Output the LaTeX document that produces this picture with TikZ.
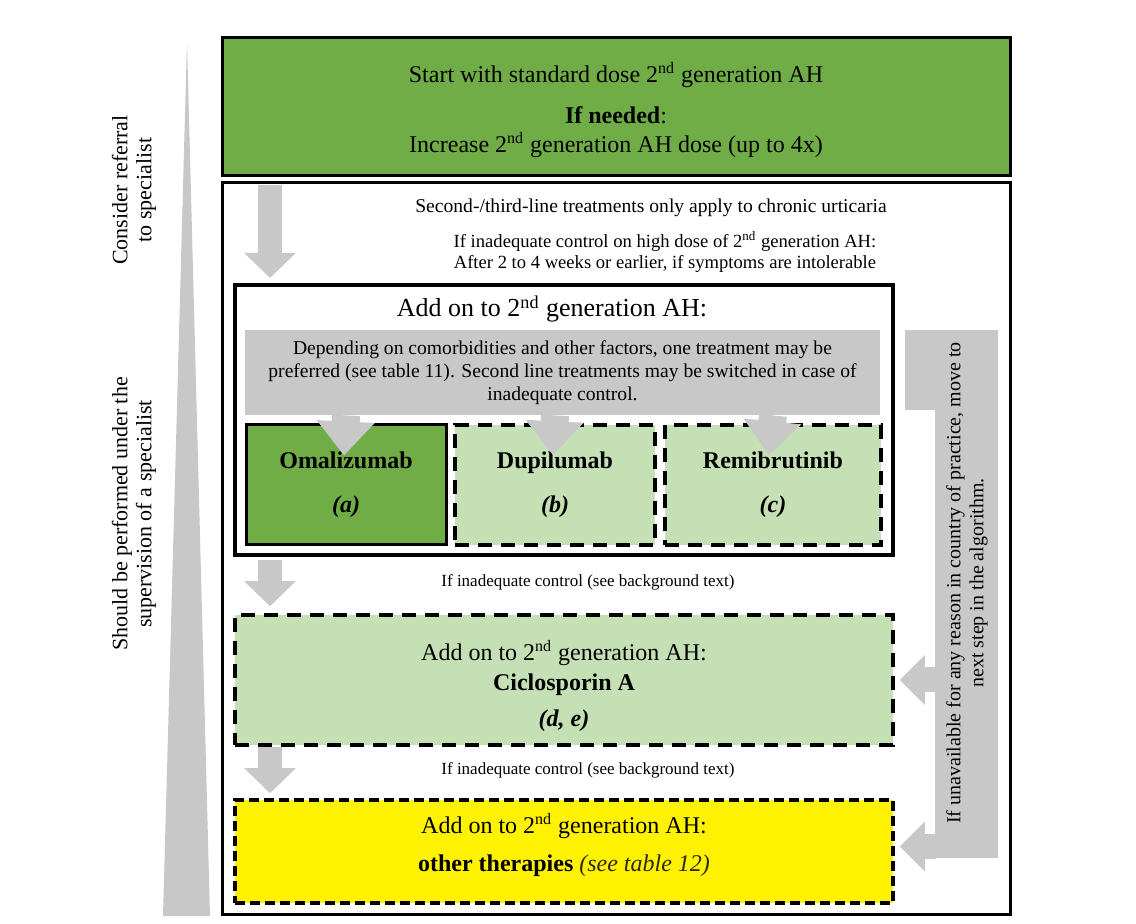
\documentclass[tikz,border=0pt]{standalone}
\usepackage{fontspec}
\setmainfont{Liberation Serif}
\usepackage{xcolor}
\usetikzlibrary{arrows.meta,positioning,calc}

\definecolor{darkgreen}{RGB}{112,173,71}
\definecolor{lightgreen}{RGB}{197,224,180}
\definecolor{arrowgray}{RGB}{200,200,200}
\definecolor{tablenote}{RGB}{45,40,5}

\begin{document}
\begin{tikzpicture}[
  x=0.5pt, y=-0.5pt,
  box/.style={draw, line width=1.5pt, inner sep=0pt, align=center},
  dashbox/.style={box, line width=1.75pt, dash pattern=on 7pt off 4.5pt, fill=lightgreen},
  blockarrow/.style={draw=arrowgray, line width=12pt, -{Triangle[length=12.5pt,width=25pt,fill=arrowgray]}},
  droparrow/.style={draw=arrowgray, line width=14pt, -{Triangle[length=17pt,width=28pt,fill=arrowgray]}},
  sidearrow/.style={draw=arrowgray, line width=12.5pt, -{Triangle[length=12.5pt,width=24pt,fill=arrowgray]}},
  note/.style={font=\fontsize{9}{10.5}\selectfont, align=center},
  title/.style={font=\fontsize{12}{14}\selectfont},
  drug/.style={font=\fontsize{12}{14}\selectfont\bfseries}
]
\useasboundingbox (0,0) rectangle (1136,924);

% escalation wedge and side labels
\fill[arrowgray] (187,42) -- (210,916) -- (163,916) -- cycle;
\node[rotate=90, font=\fontsize{11}{12}\selectfont, align=center] (referral) at (134,190) {Consider referral\\to specialist};
\node[rotate=90, font=\fontsize{11}{12}\selectfont, align=center] (supervision) at (134,514) {Should be performed under the\\supervision of a specialist};

% first line
\node[box, fill=darkgreen, minimum width=394pt, minimum height=69pt] (start) at (616,107) {};
\node[align=center, font=\fontsize{12}{14.4}\selectfont] (starttext) at (616,110)
  {Start with standard dose 2\textsuperscript{nd} generation AH\\[6pt]\textbf{If needed}:\\Increase 2\textsuperscript{nd} generation AH dose (up to 4x)};

% second/third line frame
\node[box, minimum width=394pt, minimum height=365.5pt] (secondline) at (616,548.5) {};
\coordinate (lane) at (270,0);
\node[note, font=\fontsize{9.8}{11}\selectfont] (chronic) at (651,208) {Second-/third-line treatments only apply to chronic urticaria};
\node[note, font=\fontsize{9.3}{10.5}\selectfont] (inadequate) at (665,252) {If inadequate control on high dose of 2\textsuperscript{nd} generation AH:\\After 2 to 4 weeks or earlier, if symptoms are intolerable};

% second line
\node[box, line width=2pt, minimum width=329pt, minimum height=135pt] (addon1) at (564,420) {};
\node[title, font=\fontsize{13}{15}\selectfont] (addon1title) at (552,309) {Add on to 2\textsuperscript{nd} generation AH:};
\node[fill=arrowgray, minimum width=317.5pt, minimum height=42.5pt, inner sep=0pt, align=center, font=\fontsize{9.8}{11.5}\selectfont] (prefer) at (562.5,372.5)
  {Depending on comorbidities and other factors, one treatment may be\\preferred (see table 11). Second line treatments may be switched in case of\\inadequate control.};
\node[box, drug, fill=darkgreen, minimum width=100pt, minimum height=60pt] (omal) at (346,485) {Omalizumab\\[8pt]\textit{(a)}};
\node[dashbox, drug, minimum width=100pt, minimum height=60pt] (dupi) at (555,485) {Dupilumab\\[8pt]\textit{(b)}};
\node[dashbox, drug, minimum width=108pt, minimum height=60pt] (remi) at (773,485) {Remibrutinib\\[8pt]\textit{(c)}};

\draw[droparrow] (prefer.south -| omal.north) -- ($(omal.north)+(-2,32)$);
\draw[droparrow] (prefer.south -| dupi.north) -- ($(dupi.north)+(-2,32)$);
\draw[droparrow] (prefer.south -| remi.north) -- ($(remi.north)+(-4,32)$);

% third line
\node[dashbox, minimum width=329pt, minimum height=65pt] (cyclo) at (564,680) {};
\node[title] (cyclotitle) at (564,653) {Add on to 2\textsuperscript{nd} generation AH:};
\node[drug] (cycloname) at (564,685) {Ciclosporin A};
\node[drug] (cycloref) at (564,721) {\textit{(d, e)}};

% other therapies
\node[dashbox, fill=yellow, dash pattern=on 5pt off 2.5pt, minimum width=329pt, minimum height=51.5pt] (other) at (564,851.5) {};
\node[title] (othertitle) at (564,826) {Add on to 2\textsuperscript{nd} generation AH:};
\node[font=\fontsize{12}{14}\selectfont] (othername) at (564,866) {\textbf{other therapies} \textcolor{tablenote}{\textit{(see table 12)}}};

\draw[blockarrow] ($(secondline.north -| lane)+(0,4)$) -- ($(addon1.north -| lane)+(0,-5)$);
\draw[blockarrow] ($(addon1.south -| lane)+(0,3)$) -- ($(cyclo.north -| lane)+(0,-7)$);
\draw[blockarrow] (cyclo.south -| lane) -- ($(other.north -| lane)+(0,-5)$);
\node[note, font=\fontsize{8.5}{10}\selectfont] (fail1) at (588,582) {If inadequate control (see background text)};
\node[note, font=\fontsize{8.5}{10}\selectfont] (fail2) at (588,770) {If inadequate control (see background text)};

% unavailable bracket
\node[fill=arrowgray, minimum width=31.5pt, minimum height=264pt, inner sep=0pt] (bar) at (966.5,594) {};
\node[fill=arrowgray, minimum width=46.5pt, minimum height=40pt, inner sep=0pt] (bartop) at (951.5,370) {};
\node[rotate=90, font=\fontsize{10}{11.5}\selectfont, align=center] (fallback) at (967,583)
  {If unavailable for any reason in country of practice, move to\\next step in the algorithm.};
\coordinate (tip1) at ($(cyclo.east)+(5,0)$);
\coordinate (tip2) at ($(other.east)+(5,-5)$);
\draw[sidearrow] ($(bar.west |- tip1)+(1,0)$) -- (tip1);
\draw[sidearrow] ($(bar.west |- tip2)+(1,0)$) -- (tip2);
\end{tikzpicture}
\end{document}
